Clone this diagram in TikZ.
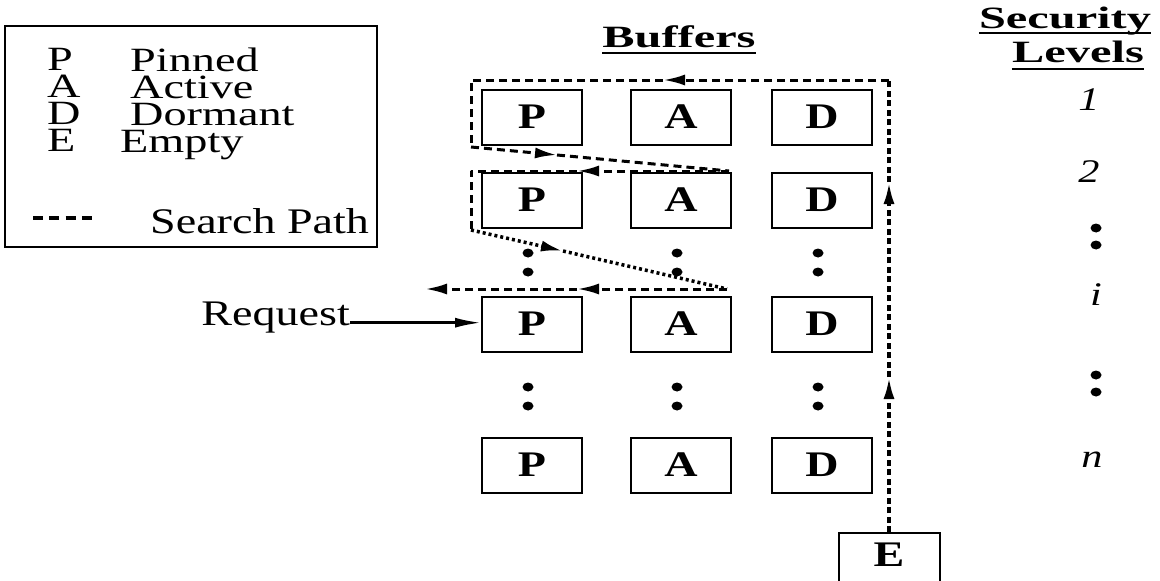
\documentclass[tikz,border=0pt]{standalone}
\usepackage{fontspec}
\setmainfont{Liberation Serif}[FakeStretch=1.28]
\newfontfamily\keyfont{Liberation Serif}[FakeStretch=1.36]
\newfontfamily\headfont{Liberation Serif}[FakeStretch=1.56]
\usetikzlibrary{arrows.meta}

\begin{document}
\begin{tikzpicture}[x=1pt,y=-1pt,
  buf/.style={draw, line width=2pt, minimum width=100pt, minimum height=55pt,
    inner sep=0pt, font=\fontsize{36}{36}\selectfont\bfseries},
  lbl/.style={inner sep=0pt, font=\fontsize{36}{36}\selectfont},
  keycol/.style={inner sep=0pt, anchor=north west, align=left,
    font=\keyfont\fontsize{34}{27}\selectfont},
  head/.style={inner sep=0pt, font=\headfont\fontsize{31}{31}\selectfont\bfseries},
  lvl/.style={inner sep=0pt, font=\fontsize{33}{33}\selectfont\itshape},
  ul/.style={line width=2pt},
  sp/.style={line width=3pt, dash pattern=on 8pt off 5pt},
  vp/.style={line width=3.5pt, dash pattern=on 6pt off 3.5pt},
  dp/.style={line width=3.5pt, dash pattern=on 3pt off 3pt},
  tip/.style={-{Latex[length=22pt,width=11pt]}},
  dot/.style={fill=black},
]
\useasboundingbox (0,0) rectangle (1160,581);
\clip (0,0) rectangle (1160,581);

% ---------- key ----------
\node[draw, line width=2pt, minimum width=372pt, minimum height=221pt, inner sep=0pt]
  (legend) at (191,136.5) {};
\node[keycol] (keys) at (47,48.5) {P\\A\\D\\E};
\node[keycol] (words) at (130,47.8) {Pinned\\Active\\Dormant\\\hspace*{-10pt}Empty};
\coordinate (ks1) at (33,218);
\coordinate (ks2) at (92,218);
\draw[line width=4pt, dash pattern=on 10pt off 6.3pt] (ks1) -- (ks2);
\node[lbl, anchor=base west] (tS) at (150,233) {Search Path};

% ---------- headings ----------
\node[head, anchor=base] (buffers) at (679,47) {Buffers};
\draw[ul] ([yshift=-6pt]buffers.base west) -- ([yshift=-6pt]buffers.base east);
\node[head, anchor=base] (sec) at (1065,28) {Security};
\draw[ul] ([yshift=-5pt]sec.base west) -- ([yshift=-5pt]sec.base east);
\node[head, anchor=base] (lev) at (1078,62) {Levels};
\draw[ul] ([yshift=-7pt]lev.base west) -- ([yshift=-7pt]lev.base east);

% ---------- buffer grid ----------
\foreach \r/\y in {1/117, 2/200, i/324, n/465} {
  \node[buf] (P\r) at (532,\y) {P};
  \node[buf] (A\r) at (681,\y) {A};
  \node[buf] (D\r) at (822,\y) {D};
}
\foreach \x in {528, 677, 818} {
  \fill[dot] (\x,253) ellipse [x radius=5.5pt, y radius=4.5pt];
  \fill[dot] (\x,272) ellipse [x radius=5.5pt, y radius=4.5pt];
  \fill[dot] (\x,387) ellipse [x radius=5.5pt, y radius=4.5pt];
  \fill[dot] (\x,406) ellipse [x radius=5.5pt, y radius=4.5pt];
}

% ---------- security levels ----------
\node[lvl] (L1) at (1089,100) {1};
\node[lvl] (L2) at (1089,172) {2};
\node[lvl] (Li) at (1096,295) {i};
\node[lvl, anchor=base] (Ln) at (1092,467) {n};
\foreach \y in {228, 245, 375, 392}
  \fill[dot] (1096,\y) ellipse [x radius=5.5pt, y radius=4.5pt];

% ---------- empty buffer ----------
\node[draw, line width=2pt, minimum width=101pt, inner sep=0pt,
  text height=33pt, text depth=27pt, font=\fontsize{36}{36}\selectfont\bfseries,
  anchor=north] (E) at (889,532) {E};

% ---------- request ----------
\node[lbl, anchor=base east] (req) at (350,325) {Request};
\draw[line width=2.5pt, -{Latex[length=26pt,width=10pt]}]
  (req.mid east) -- (req.mid east -| Pi.west);

% ---------- search path ----------
\coordinate (up1) at (E.north |- 0,377);
\coordinate (up2) at (E.north |- 0,182);
\coordinate (tr)  at (E.north |- 0,80);
\coordinate (ta)  at (663,80);
\coordinate (tl)  at (471,80);
\coordinate (l1)  at (471,147);
\coordinate (d1)  at (557,155);
\coordinate (r2)  at (729,171);
\coordinate (a2)  at (577,171);
\coordinate (l2t) at (471,171);
\coordinate (l2b) at (471,230);
\coordinate (d2)  at (563,251);
\coordinate (ri)  at (727,289);
\coordinate (ai)  at (577,289);
\coordinate (out) at (425,289);

\draw[vp, tip] (E.north) -- (up1);
\draw[vp, tip] (up1) -- (up2);
\draw[vp] (up2) -- (tr);
\draw[sp, tip, line join=round] (tr) -- (ta);
\draw[sp, line join=round] (ta) -- (tl) -- (l1);
\draw[sp, tip] (l1) -- (d1);
\draw[sp] (d1) -- (r2);
\draw[sp, tip] (r2) -- (a2);
\draw[sp, line join=round] (a2) -- (l2t) -- (l2b);
\draw[dp, tip] (l2b) -- (d2);
\draw[dp] (d2) -- (ri);
\draw[sp, tip] (ri) -- (ai);
\draw[sp, tip] (ai) -- (out);
\end{tikzpicture}
\end{document}
